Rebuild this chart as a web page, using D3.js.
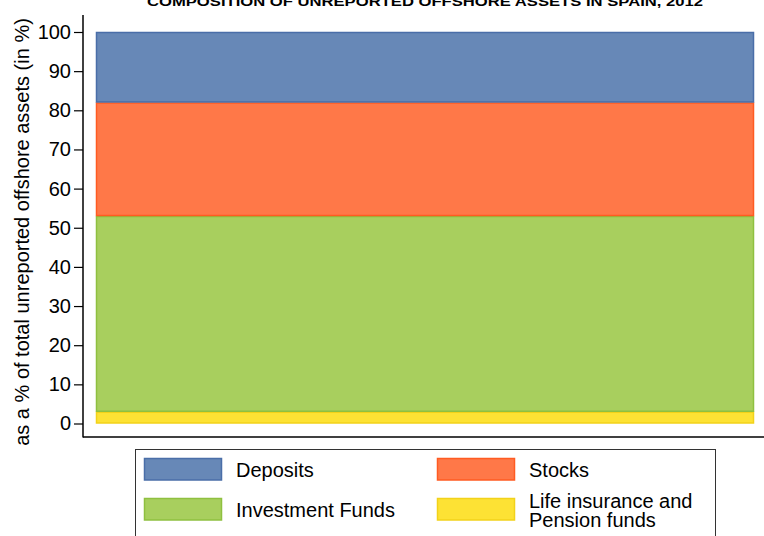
<!DOCTYPE html>
<html>
<head>
<meta charset="utf-8">
<script src="https://cdn.jsdelivr.net/npm/d3@7"></script>
<style>
  body { margin: 0; background: #fff; }
  svg { display: block; font-family: "Liberation Sans", Arial, sans-serif; }
</style>
</head>
<body>
<svg id="chart" width="764" height="536"></svg>
<script>
"use strict";

// stacked from bottom to top
const series = ["Life insurance and Pension funds", "Investment Funds", "Stocks", "Deposits"];
const shares = [3, 50, 29, 18];
const fills = ["#fde234", "#a8cf5e", "#ff7848", "#6788b7"];
const strokes = ["#f2d21a", "#8fc040", "#ff5b22", "#4a6ea8"];
const yTicks = [0, 10, 20, 30, 40, 50, 60, 70, 80, 90, 100];

const legendItems = [
    { label: ["Deposits"], idx: 3, col: 0, row: 0 },
    { label: ["Stocks"], idx: 2, col: 1, row: 0 },
    { label: ["Investment Funds"], idx: 1, col: 0, row: 1 },
    { label: ["Life insurance and", "Pension funds"], idx: 0, col: 1, row: 1 }
];

var svg = d3.select("#chart");

var y = d3.scaleLinear().domain([0, 100]).range([423.5, 32]);
var x = d3.scaleBand().domain(["2012"]).range([96, 754]).padding(0);

// stack the shares
var stacked = [];
var acc = 0;
shares.forEach(function(v, i) {
    stacked.push({ y0: acc, y1: acc + v, i: i });
    acc += v;
});

svg.append("text")
    .attr("x", 425)
    .attr("y", 6)
    .attr("text-anchor", "middle")
    .attr("font-weight", "bold")
    .attr("font-size", 13.5)
    .attr("textLength", 556)
    .attr("lengthAdjust", "spacingAndGlyphs")
    .text("COMPOSITION OF UNREPORTED OFFSHORE ASSETS IN SPAIN, 2012");

svg.append("g")
    .selectAll("rect")
    .data(stacked)
    .enter()
    .append("rect")
        .attr("x", x("2012") + 0.5)
        .attr("width", x.bandwidth() - 1)
        .attr("y", d => y(d.y1) + 0.5)
        .attr("height", d => y(d.y0) - y(d.y1) - 1)
        .attr("fill", d => fills[d.i])
        .attr("stroke", d => strokes[d.i])
        .attr("stroke-width", 1.5);

// axes
var yAxis = svg.append("g")
    .attr("transform", "translate(83,0)")
    .call(d3.axisLeft(y).tickValues(yTicks).tickSize(9).tickPadding(3));
yAxis.select(".domain").remove();
yAxis.selectAll("line").attr("stroke", "#000").attr("stroke-width", 1.2);
yAxis.selectAll("text")
    .attr("font-size", 20)
    .attr("font-family", "Liberation Sans, Arial, sans-serif")
    .attr("fill", "#000");

svg.append("line")
    .attr("x1", 83).attr("x2", 83)
    .attr("y1", 15).attr("y2", 437.5)
    .attr("stroke", "#000").attr("stroke-width", 1.5);
svg.append("line")
    .attr("x1", 83).attr("x2", 764)
    .attr("y1", 437).attr("y2", 437)
    .attr("stroke", "#000").attr("stroke-width", 1.5);

svg.append("text")
    .attr("transform", "translate(29,232) rotate(-90)")
    .attr("text-anchor", "middle")
    .attr("font-size", 20)
    .text("as a % of total unreported offshore assets (in %)");

// legend
var legend = svg.append("g");
legend.append("rect")
    .attr("x", 135.5).attr("y", 449.5)
    .attr("width", 580).attr("height", 100)
    .attr("fill", "#fff")
    .attr("stroke", "#333").attr("stroke-width", 1);

var item = legend.selectAll(".item")
    .data(legendItems)
    .enter()
    .append("g")
        .attr("class", "item")
        .attr("transform", d => "translate(" + (144 + d.col * 293) + "," + (458 + d.row * 40) + ")");

item.append("rect")
    .attr("x", 0.5).attr("y", 0.5)
    .attr("width", 77).attr("height", 21.5)
    .attr("fill", d => fills[d.idx])
    .attr("stroke", d => strokes[d.idx])
    .attr("stroke-width", 1.5);

item.each(function(d) {
    var t = d3.select(this).append("text")
        .attr("font-size", 20);
    var y0 = d.label.length === 1 ? 19 : 10;
    d.label.forEach(function(line, k) {
        t.append("tspan").attr("x", 92).attr("y", y0 + k * 18.5).text(line);
    });
});
</script>
</body>
</html>
